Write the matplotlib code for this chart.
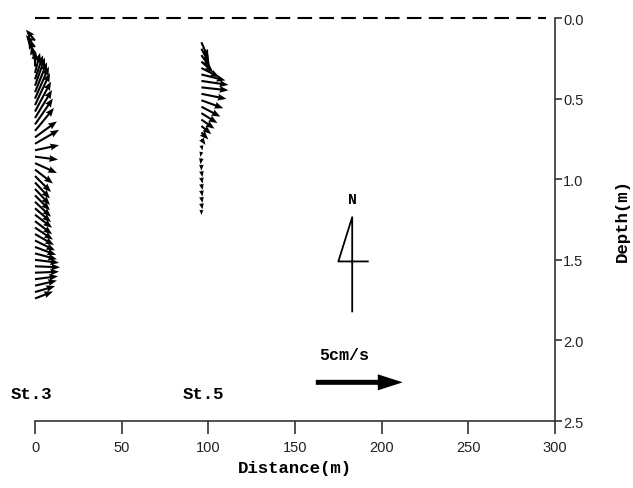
import numpy as np
import matplotlib
matplotlib.use("Agg")
import matplotlib.pyplot as plt

# station positions along the transect (m)
x_st3 = 0.0
x_st5 = 96.0

# St.3 profile: depth (m), east / north velocity (cm/s)
depth_st3 = np.arange(0.14, 1.75, 0.04)
u_st3 = [-0.52, -0.52, -0.40, -0.23, 0.00, 0.29, 0.46, 0.57, 0.69, 0.80,
         0.86, 0.92, 0.98, 1.03, 1.09, 1.26, 1.38, 1.38, 1.32, 1.26,
         1.03, 0.92, 0.86, 0.86, 0.86, 0.92, 0.92, 0.98, 0.98, 1.03,
         1.09, 1.15, 1.21, 1.26, 1.38, 1.44, 1.38, 1.32, 1.26, 1.15, 1.03]
v_st3 = [0.63, 0.69, 0.75, 0.80, 0.92, 1.15, 1.38, 1.61, 1.72, 1.84,
         1.84, 1.72, 1.61, 1.49, 1.32, 0.92, 0.80, 0.29, -0.17, -0.57,
         -0.80, -0.92, -0.92, -0.92, -0.86, -0.86, -0.80, -0.75, -0.75, -0.69,
         -0.63, -0.57, -0.46, -0.34, -0.17, -0.06, 0.06, 0.17, 0.29, 0.34, 0.40]

# St.5 profile
depth_st5 = np.arange(0.15, 1.20, 0.04)
u_st5 = [0.40, 0.46, 0.52, 0.69, 1.03, 1.38, 1.55, 1.55, 1.44, 1.26,
         1.09, 0.92, 0.75, 0.57, 0.40, 0.23, 0.06, -0.06, -0.06, 0.00,
         0.06, 0.06, 0.06, 0.06, 0.06, 0.06, 0.00]
v_st5 = [-0.92, -0.86, -0.75, -0.63, -0.52, -0.34, -0.23, -0.17, -0.29, -0.46,
         -0.57, -0.57, -0.52, -0.46, -0.40, -0.34, -0.29, -0.29, -0.34, -0.34,
         -0.34, -0.34, -0.34, -0.34, -0.34, -0.34, -0.29]

ref_speed = 5.0  # cm/s
xticks = [0, 50, 100, 150, 200, 250, 300]
yticks = [0.0, 0.5, 1.0, 1.5, 2.0, 2.5]

# north symbol ("4" shape) in data coords
north_x = [183, 183, 175, 192]
north_d = [1.82, 1.235, 1.51, 1.51]

lab_font = "Liberation Mono"
tick_font = "Liberation Sans"

fig = plt.figure(figsize=(6.33, 4.89), dpi=100)
ax = fig.add_axes([0.0553, 0.137, 0.8215, 0.824])

qkw = dict(angles="uv", scale_units="inches", scale=ref_speed / 0.87,
           units="dots", width=2.1, headwidth=3.3, headlength=4.2,
           headaxislength=3.8, pivot="tail", color="black", clip_on=False)
ax.quiver(np.full(len(depth_st3), x_st3), depth_st3, u_st3, v_st3, **qkw)
ax.quiver(np.full(len(depth_st5), x_st5), depth_st5, u_st5, v_st5, **qkw)

# reference arrow
ax.quiver([162], [2.26], [ref_speed], [0], angles="uv", scale_units="inches",
          scale=ref_speed / 0.87, units="dots", width=5, headwidth=3.2,
          headlength=5, headaxislength=5, pivot="tail", color="black")
ax.text(164, 2.09, "5cm/s", fontfamily=lab_font, fontweight="bold",
        fontsize=12, va="center", ha="left")

# water surface
ax.plot([0, 295], [0, 0], color="black", lw=1.5, dashes=(7, 3.5), clip_on=False)

# north arrow
ax.plot(north_x, north_d, color="black", lw=1.3)
ax.text(183, 1.12, "N", fontfamily=lab_font, fontweight="bold", fontsize=10.5,
        ha="center", va="center")

ax.text(-14, 2.33, "St.3", fontfamily=lab_font, fontweight="bold", fontsize=12.5,
        ha="left", va="center")
ax.text(85, 2.33, "St.5", fontfamily=lab_font, fontweight="bold", fontsize=12.5,
        ha="left", va="center")

ax.set_xlim(0, 300)
ax.set_ylim(2.5, 0)
ax.set_xticks(xticks)
ax.set_yticks(yticks)
ax.set_yticklabels([f"{t:.1f}" for t in yticks])
ax.yaxis.tick_right()
ax.yaxis.set_label_position("right")
for s in ["top", "left"]:
    ax.spines[s].set_visible(False)
for s in ["bottom", "right"]:
    ax.spines[s].set_color("#333333")
    ax.spines[s].set_linewidth(1.2)
ax.tick_params(axis="x", direction="out", length=9, width=1.2, color="#333333",
               pad=5, labelsize=10.5, labelcolor="#222222")
ax.tick_params(axis="y", direction="out", length=5, width=1.2, color="#333333",
               pad=1, labelsize=10.5, labelcolor="#222222")
for lab in ax.get_xticklabels() + ax.get_yticklabels():
    lab.set_fontfamily(tick_font)

ax.set_xlabel("Distance(m)", fontfamily=lab_font, fontweight="bold",
              fontsize=12.5, labelpad=4)
ax.set_ylabel("Depth(m)", fontfamily=lab_font, fontweight="bold",
              fontsize=12.5, labelpad=22)

fig.savefig("out.png", dpi=100)
